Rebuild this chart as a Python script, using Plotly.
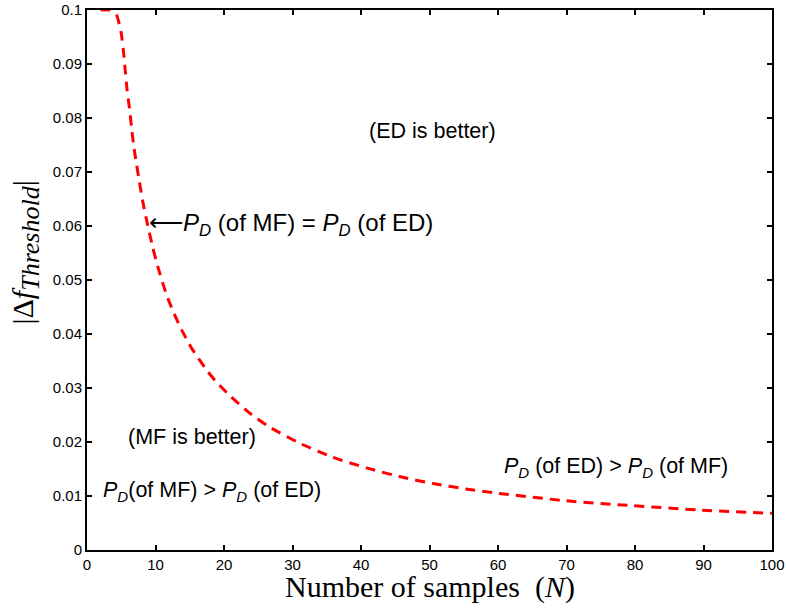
import plotly.graph_objects as go

N = [2, 3.3, 4.3, 5, 5.35, 5.6, 5.85, 6.2, 6.5, 6.8, 7.2, 7.65, 8.1, 8.85, 9.6, 10.3,
     11.6, 12.5, 13.8, 15.3, 17.6, 18.9, 21, 23.7, 26.6, 31, 35.8, 40.8, 45.6, 50.5,
     55.3, 60, 70, 79.7, 89.4, 100]
threshold = [0.1, 0.1, 0.0991, 0.0957, 0.092, 0.0885, 0.0852, 0.0818, 0.0783, 0.075,
             0.0717, 0.0682, 0.0648, 0.0602, 0.056, 0.0526, 0.0473, 0.0444, 0.0408,
             0.0373, 0.0331, 0.0311, 0.0284, 0.0254, 0.0228, 0.0198, 0.0172, 0.0152,
             0.0136, 0.0123, 0.0113, 0.0105, 0.0091, 0.0082, 0.0074, 0.0068]

x_ticks = [0, 10, 20, 30, 40, 50, 60, 70, 80, 90, 100]
y_ticks = [0, 0.01, 0.02, 0.03, 0.04, 0.05, 0.06, 0.07, 0.08, 0.09, 0.1]
y_tick_labels = ["0", "0.01", "0.02", "0.03", "0.04", "0.05", "0.06", "0.07", "0.08", "0.09", "0.1"]

fig = go.Figure()
fig.add_trace(go.Scatter(
    x=N, y=threshold, mode="lines",
    line=dict(color="#ff0000", width=3, dash="10px,7px", shape="spline", smoothing=0.5),
    showlegend=False, hoverinfo="skip"))

axis_common = dict(showline=True, linecolor="black", linewidth=2, mirror="ticks",
                   ticks="inside", ticklen=5, tickwidth=2, tickcolor="black",
                   showgrid=False, zeroline=False, automargin=False,
                   tickfont=dict(family="Liberation Sans, Arial", size=15, color="black"))

fig.update_xaxes(range=[0, 100], tickvals=x_ticks, **axis_common)
fig.update_yaxes(range=[0, 0.1], tickvals=y_ticks, ticktext=y_tick_labels, **axis_common)

sans = dict(family="Liberation Sans, Arial", color="black")
ann = [
    dict(x=50.4, y=0.0776, text="(ED is better)", font=dict(size=21.5, **sans)),
    dict(x=8.8, y=0.0603, xanchor="left",
         text="⟵<i>P</i><sub><i>D</i></sub> (of MF) = <i>P</i><sub><i>D</i></sub> (of ED)",
         font=dict(size=24, **sans)),
    dict(x=15.4, y=0.0209, text="(MF is better)", font=dict(size=21.5, **sans)),
    dict(x=2.0, y=0.0108, xanchor="left",
         text="<i>P</i><sub><i>D</i></sub>(of MF) &gt; <i>P</i><sub><i>D</i></sub> (of ED)",
         font=dict(size=21.5, **sans)),
    dict(x=60.6, y=0.0152, xanchor="left",
         text="<i>P</i><sub><i>D</i></sub> (of ED) &gt; <i>P</i><sub><i>D</i></sub> (of MF)",
         font=dict(size=21.5, **sans)),
]
annotations = [dict(xref="x", yref="y", showarrow=False, **a) for a in ann]
annotations.append(dict(xref="paper", yref="paper", x=0.5, y=0, yshift=-37, yanchor="middle",
                        showarrow=False,
                        text="Number of samples&nbsp;&nbsp;(<i>N</i>)",
                        font=dict(family="Liberation Serif, Times New Roman", size=30, color="black")))
annotations.append(dict(xref="paper", yref="paper", x=0, xshift=-62, y=0.551, xanchor="center",
                        showarrow=False, textangle=-90,
                        text="|Δ<i>f</i><sub><span style='font-size:26px'><i>Threshold</i></span></sub>|",
                        font=dict(family="Liberation Serif, Times New Roman", size=30, color="black")))

fig.update_layout(width=786, height=611, margin=dict(l=87, r=14, t=10, b=61),
                  plot_bgcolor="white", paper_bgcolor="white", annotations=annotations)

fig.write_html("out.html")
